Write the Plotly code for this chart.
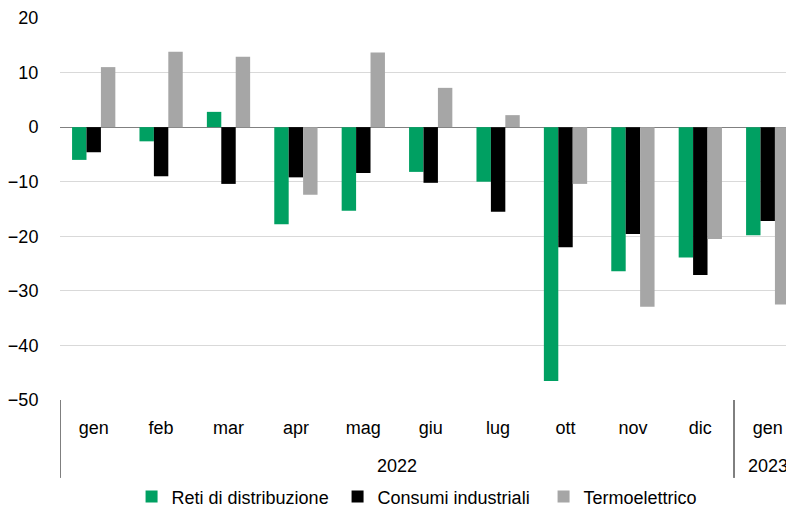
import plotly.graph_objects as go

months = ["gen", "feb", "mar", "apr", "mag", "giu", "lug", "ott", "nov", "dic", "gen"]
years = ["2022"] * 10 + ["2023"]
reti = [-6.0, -2.6, 2.8, -17.8, -15.3, -8.2, -10.0, -46.5, -26.4, -23.9, -19.8]
consumi = [-4.6, -9.0, -10.4, -9.2, -8.4, -10.2, -15.5, -22.0, -19.6, -27.1, -17.2]
termo = [11.0, 13.8, 12.9, -12.4, 13.7, 7.2, 2.2, -10.4, -32.9, -20.5, -32.5]

series = [
    ("Reti di distribuzione", reti, "#00A062"),
    ("Consumi industriali", consumi, "#000000"),
    ("Termoelettrico", termo, "#A6A6A6"),
]

xpos = list(range(len(months)))
font_family = "Liberation Sans, Arial, sans-serif"

fig = go.Figure()
for name, vals, col in series:
    fig.add_trace(go.Bar(x=xpos, y=vals, name=name, marker_color=col,
                         marker_line_width=0))

fig.update_layout(
    width=786, height=504,
    margin=dict(l=52, r=0, t=10, b=112),
    plot_bgcolor="white", paper_bgcolor="white",
    barmode="group", bargap=0.358, bargroupgap=0,
    font=dict(family=font_family, size=18, color="#000000"),
    showlegend=True,
    legend=dict(orientation="h", x=0.0975, xanchor="left", xref="paper",
                y=0.03, yref="container", yanchor="middle",
                entrywidth=161, entrywidthmode="pixels",
                font=dict(size=18), traceorder="normal"),
)
fig.update_yaxes(range=[-50, 20], dtick=10, showgrid=True, gridcolor="#D9D9D9",
                 gridwidth=1, zeroline=True, zerolinecolor="#808080", zerolinewidth=1,
                 showline=False, ticks="outside", ticklen=17, tickcolor="rgba(0,0,0,0)",
                 tickfont=dict(size=18), automargin=False)
fig.update_xaxes(range=[-0.5, 10.39], tickmode="array", tickvals=xpos, ticktext=months,
                 showgrid=False, zeroline=False, showline=False,
                 ticks="outside", ticklen=11, tickcolor="rgba(0,0,0,0)",
                 tickfont=dict(size=18), automargin=False)

# year labels
groups = {}
for i, y in enumerate(years):
    groups.setdefault(y, []).append(i)
for y, idx in groups.items():
    fig.add_annotation(x=(idx[0] + idx[-1]) / 2, y=-0.173, xref="x", yref="paper",
                       text=y, showarrow=False, font=dict(size=18), yanchor="middle")

# group dividers
fig.add_shape(type="line", xref="x", yref="paper", x0=-0.5, x1=-0.5, y0=0, y1=-0.204,
              line=dict(color="#000000", width=1))
for y, idx in groups.items():
    if idx[0] > 0:
        fig.add_shape(type="line", xref="x", yref="paper", x0=idx[0] - 0.5, x1=idx[0] - 0.5,
                      y0=0, y1=-0.204, line=dict(color="#000000", width=1))

fig.write_html("out.html")
